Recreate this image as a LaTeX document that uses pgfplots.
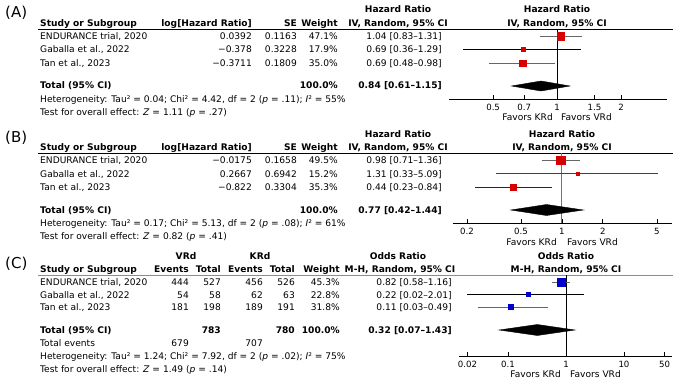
\documentclass[border=0pt]{standalone}
\usepackage{fontspec}
\setmainfont{DejaVu Sans}
\usepackage{pgfplots}
\pgfplotsset{compat=1.18}
\definecolor{rmred}{RGB}{214,0,0}
\definecolor{rmblue}{RGB}{0,0,204}
\newcommand\fs{\fontsize{9.1}{10}\selectfont}
\newcommand\TW[3]{\node[anchor=base west,inner sep=0pt,font=\fs] at (#1pt,-#2pt) {#3};}
\newcommand\TE[3]{\node[anchor=base east,inner sep=0pt,font=\fs] at (#1pt,-#2pt) {#3};}
\newcommand\TB[3]{\node[anchor=base,inner sep=0pt,font=\fs\bfseries] at (#1pt,-#2pt) {#3};}
\newcommand\TBE[3]{\node[anchor=base east,inner sep=0pt,font=\fs\bfseries] at (#1pt,-#2pt) {#3};}
\newcommand\TBW[3]{\node[anchor=base west,inner sep=0pt,font=\fs\bfseries] at (#1pt,-#2pt) {#3};}
\newcommand\HL[3]{\draw[line width=0.8pt,#3] (#1pt,-#2pt) -- (673pt,-#2pt);}
\pgfplotsset{myforest/.style={scale only axis, axis x line*=bottom, axis y line=none,
  axis line style={-,line width=0.8pt}, tick align=inside, major tick length=4pt,
  tick style={line width=0.8pt,black}, xminorticks=false, anchor=south west, clip=false,
  ticklabel style={font=\fontsize{8.6}{9}\selectfont, yshift=-1.5pt}}}
\begin{document}
\begin{tikzpicture}
\path (0pt,0pt) rectangle (695pt,-385pt);
% ================= Panel A =================
\node[anchor=base west,inner sep=0pt,font=\fontsize{15}{17}\selectfont] at (5pt,-18pt) {(A)};
\TB{398}{13}{Hazard Ratio}
\TB{557}{13}{Hazard Ratio}
\TBW{40}{26.5}{Study or Subgroup}
\TBE{252}{26.5}{log[Hazard Ratio]}
\TBE{297}{26.5}{SE}
\TBE{338}{26.5}{Weight}
\TB{398}{26.5}{IV, Random, 95\% CI}
\TB{557}{26.5}{IV, Random, 95\% CI}
\HL{38}{29.5}{black}
\TW{40}{39.5}{ENDURANCE trial, 2020}
\TE{252}{39.5}{0.0392}\TE{297}{39.5}{0.1163}\TE{338}{39.5}{47.1\%}\TE{442}{39.5}{1.04 [0.83--1.31]}
\TW{40}{53}{Gaballa et al., 2022}
\TE{252}{53}{−0.378}\TE{297}{53}{0.3228}\TE{338}{53}{17.9\%}\TE{442}{53}{0.69 [0.36--1.29]}
\TW{40}{66.5}{Tan et al., 2023}
\TE{252}{66.5}{−0.3711}\TE{297}{66.5}{0.1809}\TE{338}{66.5}{35.0\%}\TE{442}{66.5}{0.69 [0.48--0.98]}
\TBW{40}{89}{Total (95\% CI)}
\TBE{338}{89}{100.0\%}
\TBE{442}{89}{0.84 [0.61--1.15]}
\TW{40}{102.5}{Heterogeneity: Tau² = 0.04; Chi² = 4.42, df = 2 (\textit{p} = .11); \textit{I}² = 55\%}
\TW{40}{115.5}{Test for overall effect: \textit{Z} = 1.11 (\textit{p} = .27)}
\TE{553}{121}{Favors KRd}
\TW{561}{121}{Favors VRd}
\begin{axis}[myforest, xmode=log,
  at={(449pt,-99pt)}, width=218pt, height=69.5pt,
  xmin=0.310, xmax=3.29, ymin=-99, ymax=-29.5,
  xtick={0.5,0.7,1,1.5,2}, xticklabels={0.5,0.7,1,1.5,2}]
\addplot[black, line width=0.8pt] coordinates {(1,-29.5) (1,-99)};
\addplot[black!60, line width=0.8pt] coordinates {(0.83,-36) (1.31,-36)};
\addplot[black, line width=0.8pt] coordinates {(0.36,-49.5) (1.29,-49.5)};
\addplot[black!60, line width=0.8pt] coordinates {(0.48,-63) (0.98,-63)};
\addplot[only marks, mark=square*, mark size=3.8pt, rmred] coordinates {(1.04,-36)};
\addplot[only marks, mark=square*, mark size=2pt, rmred] coordinates {(0.69,-49.5)};
\addplot[only marks, mark=square*, mark size=3.2pt, rmred] coordinates {(0.69,-63)};
\addplot[fill=black, draw=black] coordinates {(0.61,-86) (0.84,-81) (1.15,-86) (0.84,-91)} -- cycle;
\end{axis}
% ================= Panel B =================
\node[anchor=base west,inner sep=0pt,font=\fontsize{15}{17}\selectfont] at (5pt,-142pt) {(B)};
\TB{398}{137}{Hazard Ratio}
\TB{562}{137}{Hazard Ratio}
\TBW{40}{150.5}{Study or Subgroup}
\TBE{252}{150.5}{log[Hazard Ratio]}
\TBE{297}{150.5}{SE}
\TBE{338}{150.5}{Weight}
\TB{398}{150.5}{IV, Random, 95\% CI}
\TB{562}{150.5}{IV, Random, 95\% CI}
\HL{38}{153.5}{black}
\TW{40}{163.5}{ENDURANCE trial, 2020}
\TE{252}{163.5}{−0.0175}\TE{297}{163.5}{0.1658}\TE{338}{163.5}{49.5\%}\TE{442}{163.5}{0.98 [0.71--1.36]}
\TW{40}{177}{Gaballa et al., 2022}
\TE{252}{177}{0.2667}\TE{297}{177}{0.6942}\TE{338}{177}{15.2\%}\TE{442}{177}{1.31 [0.33--5.09]}
\TW{40}{190.5}{Tan et al., 2023}
\TE{252}{190.5}{−0.822}\TE{297}{190.5}{0.3304}\TE{338}{190.5}{35.3\%}\TE{442}{190.5}{0.44 [0.23--0.84]}
\TBW{40}{213}{Total (95\% CI)}
\TBE{338}{213}{100.0\%}
\TBE{442}{213}{0.77 [0.42--1.44]}
\TW{40}{226.5}{Heterogeneity: Tau² = 0.17; Chi² = 5.13, df = 2 (\textit{p} = .08); \textit{I}² = 61\%}
\TW{40}{239.5}{Test for overall effect: \textit{Z} = 0.82 (\textit{p} = .41)}
\TE{557}{245}{Favors KRd}
\TW{567}{245}{Favors VRd}
\begin{axis}[myforest, xmode=log,
  at={(453pt,-223pt)}, width=219pt, height=69.5pt,
  xmin=0.158, xmax=6.45, ymin=-223, ymax=-153.5,
  xtick={0.2,0.5,1,2,5}, xticklabels={0.2,0.5,1,2,5}]
\addplot[black!55, line width=1pt] coordinates {(1,-153.5) (1,-223)};
\addplot[black!60, line width=0.8pt] coordinates {(0.71,-160) (1.36,-160)};
\addplot[black!75, line width=0.8pt] coordinates {(0.33,-173.5) (5.09,-173.5)};
\addplot[black!85, line width=0.8pt] coordinates {(0.23,-187) (0.84,-187)};
\addplot[only marks, mark=square*, mark size=4.1pt, rmred] coordinates {(0.98,-160)};
\addplot[only marks, mark=square*, mark size=1.7pt, rmred] coordinates {(1.31,-173.5)};
\addplot[only marks, mark=square*, mark size=3pt, rmred] coordinates {(0.44,-187)};
\addplot[fill=black, draw=black] coordinates {(0.42,-210) (0.77,-204.5) (1.44,-210) (0.77,-215.5)} -- cycle;
\end{axis}
% ================= Panel C =================
\node[anchor=base west,inner sep=0pt,font=\fontsize{15}{17}\selectfont] at (5pt,-268pt) {(C)};
\TB{186}{259}{VRd}
\TB{260}{259}{KRd}
\TB{398}{259}{Odds Ratio}
\TB{566}{259}{Odds Ratio}
\TBW{40}{272}{Study or Subgroup}
\TBE{189}{272}{Events}
\TBE{221}{272}{Total}
\TBE{263}{272}{Events}
\TBE{295}{272}{Total}
\TBE{340}{272}{Weight}
\TB{400}{272}{M-H, Random, 95\% CI}
\TB{566}{272}{M-H, Random, 95\% CI}
\HL{38}{275}{black!45}
\TW{40}{285.5}{ENDURANCE trial, 2020}
\TE{189}{285.5}{444}\TE{221}{285.5}{527}\TE{263}{285.5}{456}\TE{295}{285.5}{526}\TE{340}{285.5}{45.3\%}\TE{452}{285.5}{0.82 [0.58--1.16]}
\TW{40}{298}{Gaballa et al., 2022}
\TE{189}{298}{54}\TE{221}{298}{58}\TE{263}{298}{62}\TE{295}{298}{63}\TE{340}{298}{22.8\%}\TE{452}{298}{0.22 [0.02--2.01]}
\TW{40}{310.5}{Tan et al., 2023}
\TE{189}{310.5}{181}\TE{221}{310.5}{198}\TE{263}{310.5}{189}\TE{295}{310.5}{191}\TE{340}{310.5}{31.8\%}\TE{452}{310.5}{0.11 [0.03--0.49]}
\TBW{40}{333.5}{Total (95\% CI)}
\TBE{221}{333.5}{783}
\TBE{295}{333.5}{780}
\TBE{340}{333.5}{100.0\%}
\TBE{452}{333.5}{0.32 [0.07--1.43]}
\TW{40}{346.5}{Total events}
\TE{189}{346.5}{679}
\TE{263}{346.5}{707}
\TW{40}{359.5}{Heterogeneity: Tau² = 1.24; Chi² = 7.92, df = 2 (\textit{p} = .02); \textit{I}² = 75\%}
\TW{40}{372}{Test for overall effect: \textit{Z} = 1.49 (\textit{p} = .14)}
\TE{561}{377}{Favors KRd}
\TW{570}{377}{Favors VRd}
\begin{axis}[myforest, xmode=log,
  at={(459pt,-356pt)}, width=213pt, height=81pt,
  xmin=0.0143, xmax=67.3, ymin=-356, ymax=-275,
  xtick={0.02,0.1,1,10,50}, xticklabels={0.02,0.1,1,10,50}]
\addplot[black, line width=0.8pt] coordinates {(1,-275) (1,-356)};
\addplot[black!60, line width=0.8pt] coordinates {(0.58,-282) (1.16,-282)};
\addplot[black, line width=0.8pt] coordinates {(0.02,-294.5) (2.01,-294.5)};
\addplot[black!60, line width=0.8pt] coordinates {(0.03,-307) (0.49,-307)};
\addplot[only marks, mark=square*, mark size=3.8pt, rmblue] coordinates {(0.82,-282)};
\addplot[only marks, mark=square*, mark size=2pt, rmblue] coordinates {(0.22,-294.5)};
\addplot[only marks, mark=square*, mark size=2.6pt, rmblue] coordinates {(0.11,-307)};
\addplot[fill=black, draw=black] coordinates {(0.07,-330) (0.32,-324.5) (1.43,-330) (0.32,-335.5)} -- cycle;
\end{axis}
\end{tikzpicture}
\end{document}
